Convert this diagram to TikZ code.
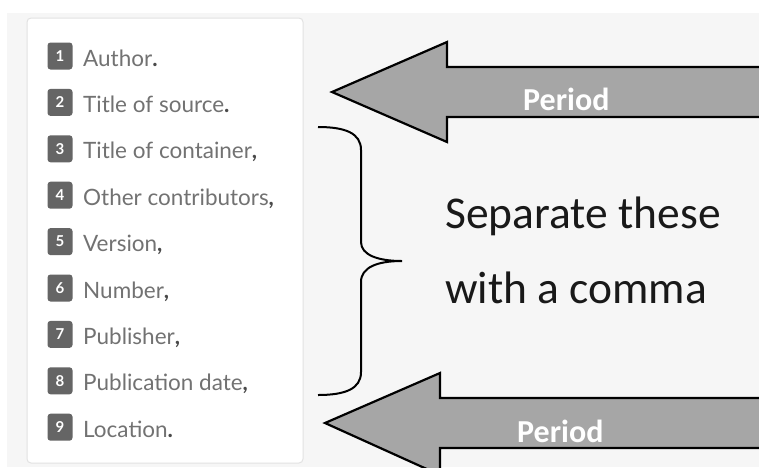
\documentclass[tikz,border=0pt]{standalone}
\usepackage{fontspec}
\newfontfamily\calibri{Carlito}
\newfontfamily\listfont{Lato}
\definecolor{pagebg}{HTML}{F6F6F6}
\definecolor{panelline}{HTML}{E2E2E2}
\definecolor{badgegray}{HTML}{656565}
\definecolor{itemgray}{HTML}{727272}
\definecolor{punc}{HTML}{4A4A4A}
\definecolor{arrowgray}{HTML}{A6A6A6}
\newcommand{\pnct}[1]{{\bfseries\color{punc}#1}}
\tikzset{
  badge/.style={rectangle, rounded corners=3pt, fill=badgegray, minimum width=25pt,
    minimum height=27pt, inner sep=0pt, text=white,
    font=\listfont\bfseries\fontsize{15}{15}\selectfont},
  item/.style={anchor=base west, inner sep=0pt, text=itemgray,
    font=\listfont\fontsize{22.5}{22.5}\selectfont},
  periodarrow/.style={fill=arrowgray, draw=black, line width=2.2pt, line join=miter},
  periodlabel/.style={anchor=base west, inner sep=0pt, text=white,
    font=\calibri\bfseries\fontsize{32}{32}\selectfont},
  bigtext/.style={anchor=base west, inner sep=0pt, text=black!90,
    font=\calibri\fontsize{45.5}{45.5}\selectfont},
  bracestroke/.style={draw=black, line width=2pt}
}
\begin{document}
\begin{tikzpicture}[x=1pt,y=-1pt]
\useasboundingbox (0,0) rectangle (759,467);
\clip (0,0) rectangle (759,467);
% page background
\fill[white] (0,0) rectangle (759,467);
\fill[pagebg] (7,13) rectangle (759,467);
% list panel
\draw[panelline, fill=white, rounded corners=4pt, line width=1pt] (27,18) rectangle (303,463);

% numbered items
\foreach \n/\txt [count=\i from 0] in {1/Author\pnct{.},2/Title of source\pnct{.},
    3/Title of container\pnct{,},4/Other contributors\pnct{,},5/Version\pnct{,},
    6/Number\pnct{,},7/Publisher\pnct{,},8/Publication date\pnct{,},9/Location\pnct{.}}{
  \node[badge] (b\n) at (60,56+46.4*\i) {\n};
  \node[item] (t\n) at (83,66+46.4*\i) {\txt};
}

% upper arrow
\draw[periodarrow] (332,92) -- (447,42) -- (447,67) -- (770,67) -- (770,117)
  -- (447,117) -- (447,142) -- cycle;
\node[periodlabel] (p1) at (523,110) {Period};

% lower arrow
\draw[periodarrow] (325,423) -- (440,373) -- (440,398) -- (770,398) -- (770,448)
  -- (440,448) -- (440,475) -- cycle;
\node[periodlabel] (p2) at (517,442) {Period};

% brace grouping items 3 to 8
\draw[bracestroke] (318,127) .. controls (345,127) and (361,133) .. (361,150)
  -- (361,242) .. controls (361,255) and (378,261) .. (402,261)
  .. controls (378,261) and (361,267) .. (361,282)
  -- (361,372) .. controls (361,389) and (345,395) .. (318,395);

% note text
\node[bigtext] (s1) at (445,228) {Separate these};
\node[bigtext] (s2) at (445,303) {with a comma};
\end{tikzpicture}
\end{document}
